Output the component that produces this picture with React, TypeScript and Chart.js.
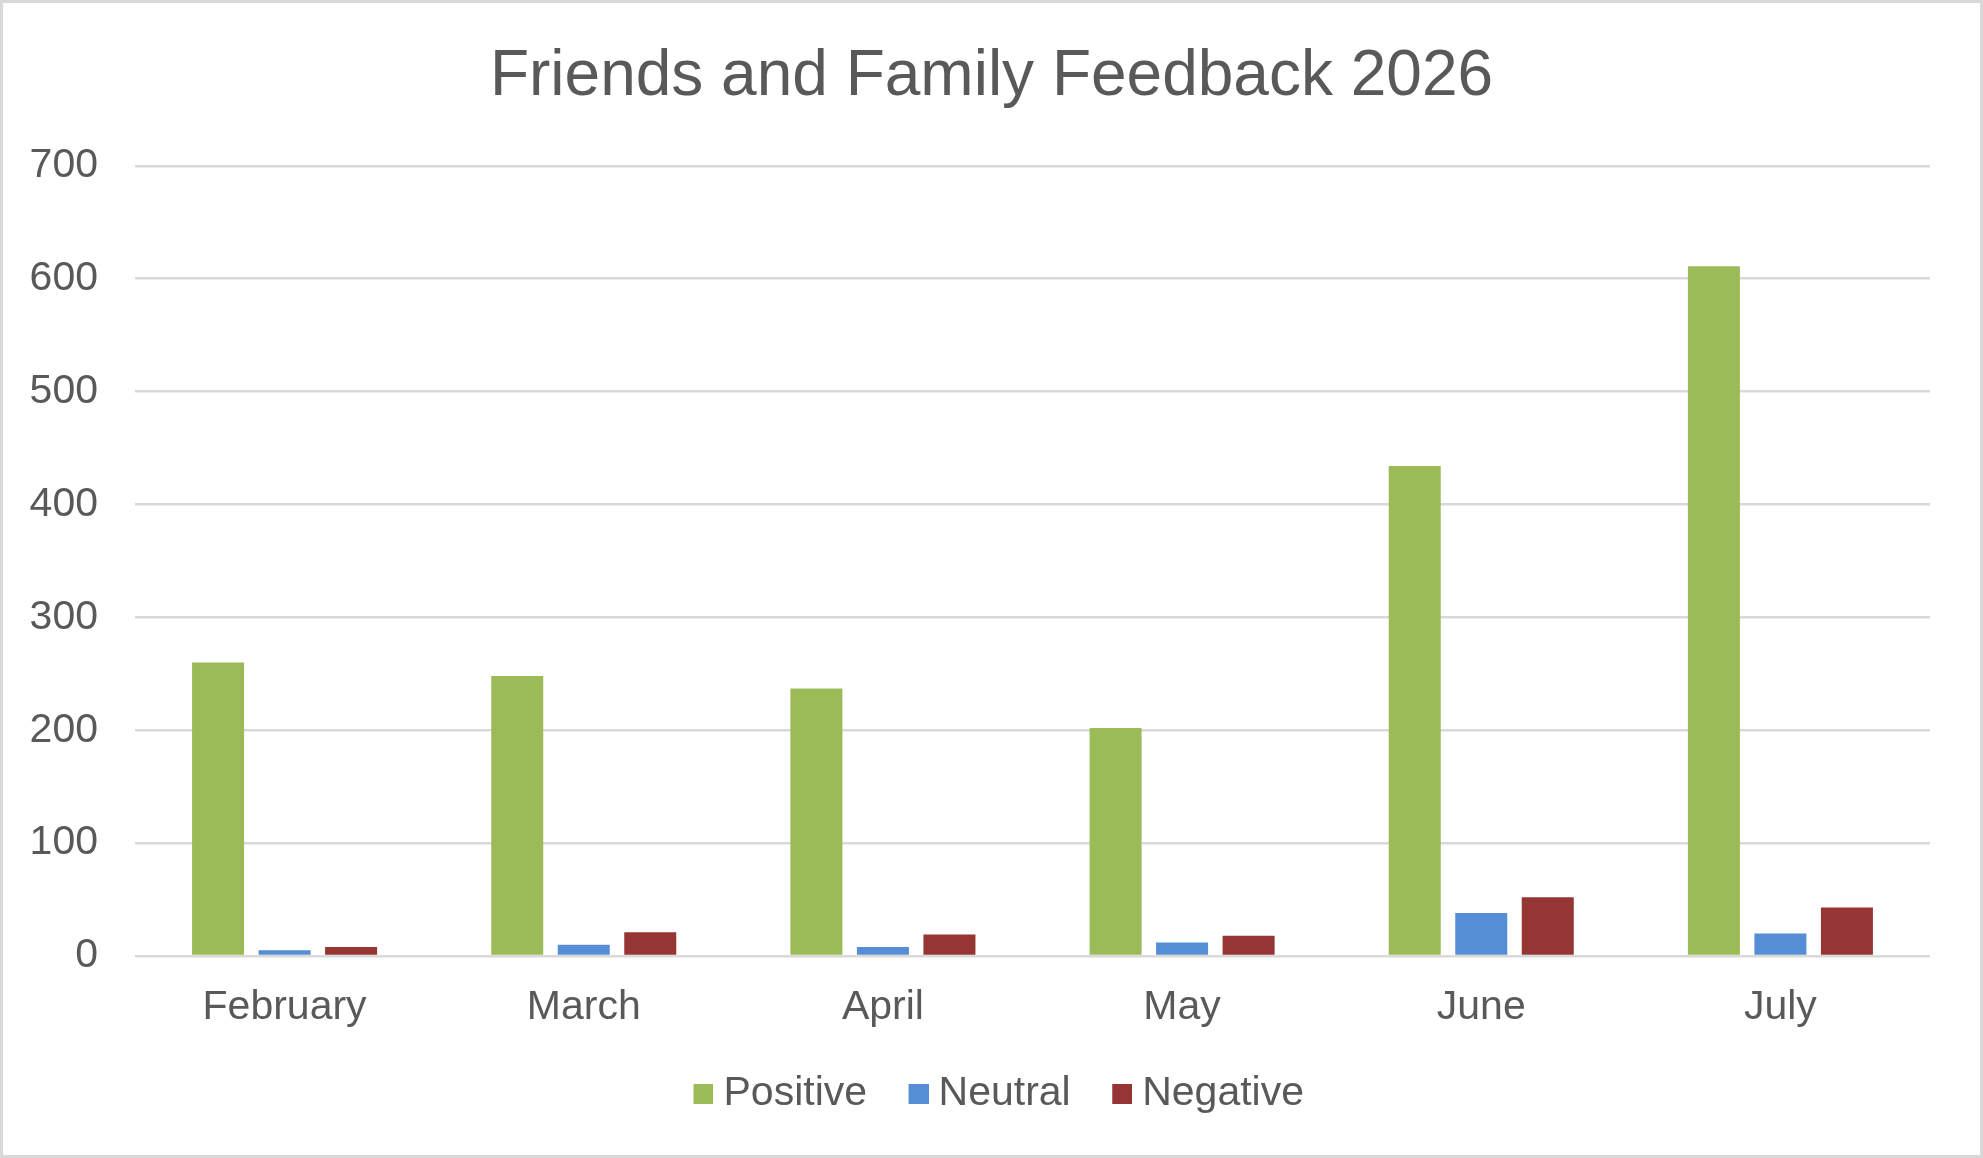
import { useEffect, useRef } from "react";
import { Chart, ChartConfiguration, registerables } from "chart.js";

Chart.register(...registerables);

const months = ["February", "March", "April", "May", "June", "July"];
const seriesNames = ["Positive", "Neutral", "Negative"];
const positive = [260, 248, 237, 202, 434, 611];
const neutral = [5, 10, 8, 12, 38, 20];
const negative = [8, 21, 19, 18, 52, 43];
const yMax = 700;
const yStep = 100;

const seriesColors = ["#9bbb59", "#558ed5", "#963634"];
const TEXT = "#595959";
const GRID = "#d9d9d9";
const FONT = "'Liberation Sans', Arial, sans-serif";

// legend marker: 20px square on the right end of a 45px wide image,
// so the label text sits close to the square like in Excel
function swatch(color: string): HTMLCanvasElement {
  const c = document.createElement("canvas");
  c.width = 45;
  c.height = 20;
  const g = c.getContext("2d");
  if (g) {
    g.fillStyle = color;
    g.fillRect(25, 0, 20, 20);
  }
  return c;
}

function FeedbackChart(): JSX.Element {
  const chartRef = useRef<HTMLCanvasElement | null>(null);
  const chartInstance = useRef<Chart | null>(null);

  useEffect(() => {
    if (!chartRef.current) return;
    const ctx = chartRef.current.getContext("2d");
    if (!ctx) return;

    const swatches = seriesColors.map(swatch);
    const values = [positive, neutral, negative];

    const config: ChartConfiguration = {
      type: "bar",
      data: {
        labels: months,
        datasets: seriesNames.map((name, i) => ({
          label: name,
          data: values[i],
          backgroundColor: seriesColors[i],
          xAxisID: "x",
          yAxisID: "y",
        })),
      },
      options: {
        responsive: false,
        animation: false,
        layout: { padding: { left: 26, right: 26, top: 0, bottom: 30.5 } },
        datasets: {
          bar: { categoryPercentage: 0.667, barPercentage: 0.782 },
        },
        plugins: {
          title: {
            display: true,
            text: "Friends and Family Feedback 2026",
            color: TEXT,
            font: { family: FONT, size: 64, weight: "normal" },
            padding: { top: 36, bottom: 50 },
          },
          legend: {
            position: "bottom",
            labels: {
              color: TEXT,
              font: { family: FONT, size: 41 },
              usePointStyle: true,
              pointStyleWidth: 24,
              boxHeight: 20,
              padding: 27,
              generateLabels: (chart: Chart) =>
                Chart.defaults.plugins.legend.labels
                  .generateLabels(chart)
                  .map((item, i) => ({ ...item, pointStyle: swatches[i] })),
            },
          },
          tooltip: { enabled: false },
        },
        scales: {
          x: {
            grid: { display: false, drawTicks: false },
            border: { display: false },
            ticks: {
              color: TEXT,
              font: { family: FONT, size: 41 },
              padding: 27,
              maxRotation: 0,
            },
            afterFit: (scale: any) => {
              scale.height = 90.5;
            },
          },
          y: {
            min: 0,
            max: yMax,
            grid: { color: GRID, lineWidth: 2.5, drawTicks: false },
            border: { display: false },
            ticks: {
              stepSize: yStep,
              color: TEXT,
              font: { family: FONT, size: 41 },
              padding: 37,
            },
            afterFit: (scale: any) => {
              scale.width = 106;
            },
          },
          // empty strip on the right of the plot area
          gutter: {
            type: "linear",
            position: "right",
            grid: { display: false, drawTicks: false },
            border: { display: false },
            ticks: { display: false },
            afterFit: (scale: any) => {
              scale.width = 24;
            },
          },
        },
      },
    };

    if (chartInstance.current) chartInstance.current.destroy();
    chartInstance.current = new Chart(ctx, config);

    return () => {
      if (chartInstance.current) {
        chartInstance.current.destroy();
        chartInstance.current = null;
      }
    };
  }, []);

  return (
    <div
      style={{
        position: "fixed",
        left: 0,
        top: 0,
        width: 1983,
        height: 1158,
        boxSizing: "border-box",
        border: `3px solid ${GRID}`,
        background: "#fff",
      }}
    >
      <canvas ref={chartRef} width={1977} height={1152} style={{ display: "block" }} />
    </div>
  );
}

export default function App(): JSX.Element {
  return <FeedbackChart />;
}
